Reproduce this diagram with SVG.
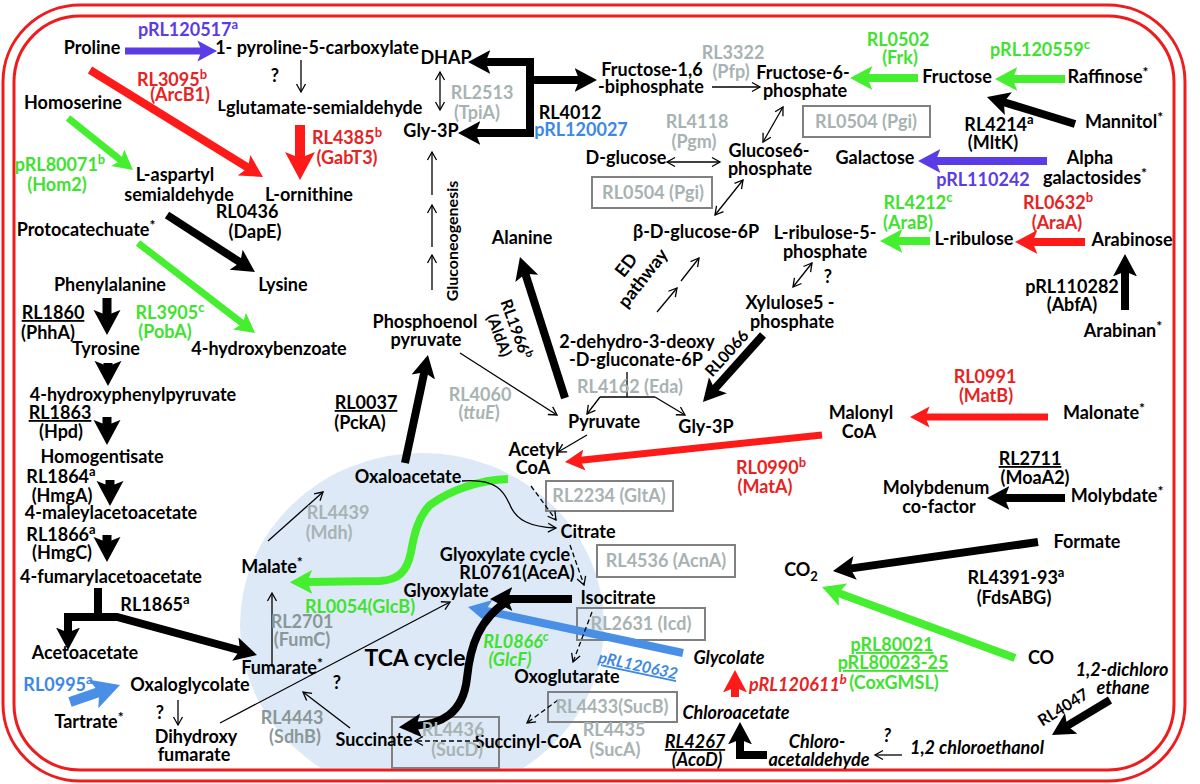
<svg xmlns="http://www.w3.org/2000/svg" width="1200" height="784" viewBox="0 0 1200 784">
<style>
text{font-family:Lato,"Liberation Sans",Arial,sans-serif;font-weight:bold;font-size:18px;text-anchor:middle;fill:#000}
.g{fill:#a7b3b3}.gd{fill:#8a9797}.r{fill:#e8231f}.gr{fill:#3fe22f}.p{fill:#5a3ce6}.b{fill:#3d88e6}
.i{font-style:italic}.u{text-decoration:underline}.sm{font-size:16px}.big{font-size:23px}
.tk{fill:none;stroke-linecap:butt;stroke-linejoin:miter}
.k{stroke:#000}.kr{stroke:#ff1a1a}.kg{stroke:#46ee30}.kp{stroke:#5a3ce6}.kb{stroke:#4a8fe6}
.th{fill:none;stroke:#000;stroke-width:1.3}
.dash{stroke-dasharray:5 3}
.box{fill:none;stroke:#808080;stroke-width:2}
.bd{fill:none;stroke:#ee1c1c;stroke-width:3}
</style>
<defs>
<marker id="hk" viewBox="0 -1.6 2.9 3.2" markerWidth="2.9" markerHeight="3.2" refX="0.9" refY="0" orient="auto-start-reverse" markerUnits="strokeWidth"><path d="M0,-1.5 L2.8,0 L0,1.5 L0.6,0 z" fill="#000"/></marker>
<marker id="hr" viewBox="0 -1.6 2.9 3.2" markerWidth="2.9" markerHeight="3.2" refX="0.9" refY="0" orient="auto-start-reverse" markerUnits="strokeWidth"><path d="M0,-1.5 L2.8,0 L0,1.5 L0.6,0 z" fill="#ff1a1a"/></marker>
<marker id="hg" viewBox="0 -1.6 2.9 3.2" markerWidth="2.9" markerHeight="3.2" refX="0.9" refY="0" orient="auto-start-reverse" markerUnits="strokeWidth"><path d="M0,-1.5 L2.8,0 L0,1.5 L0.6,0 z" fill="#46ee30"/></marker>
<marker id="hp" viewBox="0 -1.6 2.9 3.2" markerWidth="2.9" markerHeight="3.2" refX="0.9" refY="0" orient="auto-start-reverse" markerUnits="strokeWidth"><path d="M0,-1.5 L2.8,0 L0,1.5 L0.6,0 z" fill="#5a3ce6"/></marker>
<marker id="hb" viewBox="0 -1.6 2.9 3.2" markerWidth="2.9" markerHeight="3.2" refX="0.9" refY="0" orient="auto-start-reverse" markerUnits="strokeWidth"><path d="M0,-1.5 L2.8,0 L0,1.5 L0.6,0 z" fill="#4a8fe6"/></marker>
<marker id="oa" viewBox="-10 -6 12 12" markerWidth="12" markerHeight="12" refX="0" refY="0" orient="auto-start-reverse" markerUnits="userSpaceOnUse"><path d="M-8,-4.5 L0,0 L-8,4.5" fill="none" stroke="#000" stroke-width="1.3"/></marker>
<clipPath id="cl"><rect x="14" y="16" width="1160" height="752" rx="66"/></clipPath>
</defs>
<rect width="1200" height="784" fill="#fff"/>
<g id="cell">
<rect class="bd" x="3" y="5" width="1182" height="776" rx="77"/>
<rect class="bd" x="14" y="16" width="1160" height="754" rx="66"/>
<ellipse cx="422" cy="625" rx="182" ry="172" fill="#dde9f6" clip-path="url(#cl)"/>
</g>
<g id="boxes">
<rect class="box" x="803" y="106" width="127" height="31"/>
<rect class="box" x="592" y="177" width="120" height="31"/>
<rect class="box" x="546" y="481" width="127" height="30"/>
<rect class="box" x="597" y="545" width="138" height="32"/>
<rect class="box" x="577" y="608" width="128" height="32"/>
<rect class="box" x="548" y="692" width="129" height="30"/>
<rect class="box" x="392" y="717" width="107" height="51"/>
</g>
<g id="connectors">
<path class="tk kp" stroke-width="7" d="M125,51 H203.7" marker-end="url(#hp)"/>
<path class="tk kr" stroke-width="8" d="M90,70 L250.1,169" marker-end="url(#hr)"/>
<path class="tk kg" stroke-width="7" d="M68,118 L122.6,161.7" marker-end="url(#hg)"/>
<path class="tk k" stroke-width="8" d="M167,215 L242.2,263.7" marker-end="url(#hk)"/>
<path class="tk kg" stroke-width="7" d="M138,243 L244.5,324.9" marker-end="url(#hg)"/>
<path class="tk k" stroke-width="9" d="M107,298 V318" marker-end="url(#hk)"/>
<path class="tk k" stroke-width="9" d="M108,363 V369" marker-end="url(#hk)"/>
<path class="tk k" stroke-width="9" d="M107,417 V428" marker-end="url(#hk)"/>
<path class="tk k" stroke-width="9" d="M110,480 V489" marker-end="url(#hk)"/>
<path class="tk k" stroke-width="9" d="M107,535 V545" marker-end="url(#hk)"/>
<path class="tk k" stroke-width="8" d="M98,588 V617"/>
<path class="tk k" stroke-width="8" d="M64,617 H117 L242.3,651" marker-end="url(#hk)"/>
<path class="tk k" stroke-width="8" d="M68,613 V634.8" marker-end="url(#hk)"/>
<path class="tk kb" stroke-width="10" d="M70,702 L102,691.1" marker-end="url(#hb)"/>
<path class="tk k" stroke-width="8" d="M405,463 L424.8,369.9" marker-end="url(#hk)"/>
<path class="tk k" stroke-width="8" d="M565,398 L524.6,271.5" marker-end="url(#hk)"/>
<path class="tk k" stroke-width="8" d="M483.2,62 H530 V133 H473.2" marker-start="url(#hk)" marker-end="url(#hk)"/>
<path class="tk k" stroke-width="8" d="M530,80 H581.8" marker-end="url(#hk)"/>
<path class="tk kr" stroke-width="10" d="M300,125 V161" marker-end="url(#hr)"/>
<path class="tk kg" stroke-width="8" d="M918,78 H865.2" marker-end="url(#hg)"/>
<path class="tk kg" stroke-width="8" d="M1065,79 H1010.2" marker-end="url(#hg)"/>
<path class="tk k" stroke-width="8" d="M1075,124 L1001.5,101.5" marker-end="url(#hk)"/>
<path class="tk kp" stroke-width="8" d="M1047,161 H933.2" marker-end="url(#hp)"/>
<path class="tk kg" stroke-width="8" d="M930,241 H895.2" marker-end="url(#hg)"/>
<path class="tk kr" stroke-width="8" d="M1085,242 H1030.2" marker-end="url(#hr)"/>
<path class="tk k" stroke-width="8" d="M1125,310 V269.2" marker-end="url(#hk)"/>
<path class="tk k" stroke-width="8" d="M763,335 L713.1,390.7" marker-end="url(#hk)"/>
<path class="tk kr" stroke-width="7" d="M822,435 L578.2,460.6" marker-end="url(#hr)"/>
<path class="tk kr" stroke-width="7" d="M1048,417 H923.3" marker-end="url(#hr)"/>
<path class="tk k" stroke-width="8" d="M1065,498 H1002.2" marker-end="url(#hk)"/>
<path class="tk k" stroke-width="8" d="M1038,542 L848,568.9" marker-end="url(#hk)"/>
<path class="tk kg" stroke-width="8" d="M1015,658 L836.3,592.2" marker-end="url(#hg)"/>
<path class="tk k" stroke-width="8" d="M1110,700 L1065,727.1" marker-end="url(#hk)"/>
<path class="tk k" stroke-width="8" d="M767,755 H740 V737.2" marker-end="url(#hk)"/>
<path class="tk kr" stroke-width="8" d="M735,697 V685.2" marker-end="url(#hr)"/>
<path class="tk kb" stroke-width="8" d="M683,653 L482.9,610.2" marker-end="url(#hb)"/>
<path class="tk k" stroke-width="8" d="M572,599 H505.2" marker-end="url(#hk)"/>
<path class="tk k" stroke-width="8" d="M512,598 C478,618 470,648 467,678 C463,715 440,724 414,726" marker-end="url(#hk)"/>
<path class="tk kg" stroke-width="8" d="M508,479 C480,480 450,490 430,505 C418,517 414,535 411,552 C407,572 398,580 380,581 L305,582" marker-end="url(#hg)"/>
<path class="th" d="M301,60 V92" marker-end="url(#oa)"/>
<path class="th" d="M440,72 V110" marker-start="url(#oa)" marker-end="url(#oa)"/>
<path class="th" d="M432,195 V152" marker-end="url(#oa)"/>
<path class="th" d="M432,247 V205" marker-end="url(#oa)"/>
<path class="th" d="M432,290 V255" marker-end="url(#oa)"/>
<path class="th" d="M712,87 H760" marker-end="url(#oa)"/>
<path class="th" d="M783,107 L763,142" marker-start="url(#oa)" marker-end="url(#oa)"/>
<path class="th" d="M667,162 H720" marker-start="url(#oa)" marker-end="url(#oa)"/>
<path class="th" d="M743,180 L715,215" marker-start="url(#oa)" marker-end="url(#oa)"/>
<path class="th" d="M657,312 L677,288" marker-end="url(#oa)"/>
<path class="th" d="M681,281 L699,258" marker-end="url(#oa)"/>
<path class="th" d="M812,263 L793,287" marker-start="url(#oa)" marker-end="url(#oa)"/>
<path class="th" d="M460,353 L557,415" marker-end="url(#oa)"/>
<path class="th" d="M627,372 V397 M600,397 H655"/>
<path class="th" d="M600,397 L587,414" marker-end="url(#oa)"/>
<path class="th" d="M655,397 L685,415" marker-end="url(#oa)"/>
<path class="th" d="M587,435 L558,452" marker-end="url(#oa)"/>
<path class="th" d="M462,481 C500,478 505,495 510,505 C516,520 530,527 556,528" marker-end="url(#oa)"/>
<path class="th dash" d="M531,486 L556,520" marker-end="url(#oa)"/>
<path class="th dash" d="M570,545 L584,585" marker-end="url(#oa)"/>
<path class="th dash" d="M592,612 L573,662" marker-end="url(#oa)"/>
<path class="th dash" d="M558,700 L527,723" marker-end="url(#oa)"/>
<path class="th dash" d="M478,741 H415" marker-end="url(#oa)"/>
<path class="th" d="M350,728 L303,692" marker-end="url(#oa)"/>
<path class="th" d="M272,667 V593" marker-end="url(#oa)"/>
<path class="th" d="M268,541 L323,492" marker-end="url(#oa)"/>
<path class="th" d="M220,723 L450,602" marker-end="url(#oa)"/>
<path class="th" d="M178,700 V725" marker-end="url(#oa)"/>
<path class="th" d="M902,755 H875" marker-end="url(#oa)"/>
</g>
<g id="n-proline"><text x="92" y="54">Proline</text></g>
<g id="n-pyroline"><text x="317" y="54">1- pyroline-5-carboxylate</text></g>
<g id="n-glusemi"><text x="320" y="114"><tspan font-size="16" dy="-3">L</tspan><tspan dy="3">glutamate-semialdehyde</tspan></text></g>
<g id="n-homoserine"><text x="73" y="109">Homoserine</text></g>
<g id="n-aspartyl"><text x="175" y="181">L-aspartyl</text><text x="179" y="201">semialdehyde</text></g>
<g id="n-ornithine"><text x="309" y="201">L-ornithine</text></g>
<g id="n-protocatechuate"><text x="86" y="236">Protocatechuate<tspan dy="-6" font-size="14">*</tspan></text></g>
<g id="n-lysine"><text x="283" y="291">Lysine</text></g>
<g id="n-phenylalanine"><text x="110" y="291">Phenylalanine</text></g>
<g id="n-tyrosine"><text x="106" y="355">Tyrosine</text></g>
<g id="n-4hb"><text x="269" y="355">4-hydroxybenzoate</text></g>
<g id="n-4hpp"><text x="133" y="401">4-hydroxyphenylpyruvate</text></g>
<g id="n-homogentisate"><text x="102" y="463">Homogentisate</text></g>
<g id="n-4mal"><text x="111" y="519">4-maleylacetoacetate</text></g>
<g id="n-4fum"><text x="111" y="583">4-fumarylacetoacetate</text></g>
<g id="n-acetoacetate"><text x="85" y="659">Acetoacetate</text></g>
<g id="n-oxaloglycolate"><text x="190" y="691">Oxaloglycolate</text></g>
<g id="n-tartrate"><text x="89" y="728">Tartrate<tspan dy="-6" font-size="14">*</tspan></text></g>
<g id="n-dihydroxyfumarate"><text x="196" y="743">Dihydroxy</text><text x="194" y="761">fumarate</text></g>
<g id="n-malate"><text x="272" y="573">Malate<tspan dy="-6" font-size="14">*</tspan></text></g>
<g id="n-fumarate"><text x="282" y="674">Fumarate<tspan dy="-6" font-size="14">*</tspan></text></g>
<g id="n-succinate"><text x="377" y="746">Succinate<tspan dy="-6" font-size="14">*</tspan></text></g>
<g id="n-succinylcoa"><text x="528" y="748">Succinyl-CoA</text></g>
<g id="n-oxoglutarate"><text x="567" y="683">Oxoglutarate</text></g>
<g id="n-isocitrate"><text x="618" y="604">Isocitrate</text></g>
<g id="n-glyoxylate"><text x="446" y="597">Glyoxylate</text></g>
<g id="n-citrate"><text x="588" y="538">Citrate</text></g>
<g id="n-oxaloacetate"><text x="408" y="483">Oxaloacetate</text></g>
<g id="n-acetylcoa"><text x="534" y="456">Acetyl</text><text x="533" y="474">CoA</text></g>
<g id="n-pyruvate"><text x="604" y="428">Pyruvate</text></g>
<g id="n-pep"><text x="425" y="328">Phosphoenol</text><text x="426" y="346">pyruvate</text></g>
<g id="n-alanine"><text x="522" y="244">Alanine</text></g>
<g id="n-dhap"><text x="446" y="64">DHAP</text></g>
<g id="n-gly3p"><text x="431" y="137">Gly-3P</text></g>
<g id="n-f16bp"><text x="652" y="76">Fructose-1,6</text><text x="651" y="93">-biphosphate</text></g>
<g id="n-f6p"><text x="803" y="79">Fructose-6-</text><text x="805" y="97">phosphate</text></g>
<g id="n-dglucose"><text x="626" y="164">D-glucose</text></g>
<g id="n-g6p"><text x="769" y="157">Glucose6-</text><text x="770" y="175">phosphate</text></g>
<g id="n-bdg6p"><text x="696" y="238">β-D-glucose-6P</text></g>
<g id="n-lrib5p"><text x="825" y="239">L-ribulose-5-</text><text x="825" y="258">phosphate</text></g>
<g id="n-kdpg"><text x="637" y="348">2-dehydro-3-deoxy</text><text x="636" y="366">-D-gluconate-6P</text></g>
<g id="n-gly3p2"><text x="706" y="433">Gly-3P</text></g>
<g id="n-xyl5p"><text x="790" y="309">Xylulose5 -</text><text x="792" y="328">phosphate</text></g>
<g id="n-malonylcoa"><text x="861" y="419">Malonyl</text><text x="859" y="438">CoA</text></g>
<g id="n-fructose"><text x="957" y="83">Fructose</text></g>
<g id="n-raffinose"><text x="1108" y="83">Raffinose<tspan dy="-6" font-size="14">*</tspan></text></g>
<g id="n-mannitol"><text x="1124" y="128">Mannitol<tspan dy="-6" font-size="14">*</tspan></text></g>
<g id="n-galactose"><text x="875" y="164">Galactose</text></g>
<g id="n-alphagal"><text x="1090" y="164">Alpha</text><text x="1095" y="184">galactosides<tspan dy="-6" font-size="14">*</tspan></text></g>
<g id="n-lribulose"><text x="974" y="245">L-ribulose</text></g>
<g id="n-arabinose"><text x="1132" y="246">Arabinose</text></g>
<g id="n-arabinan"><text x="1123" y="337">Arabinan<tspan dy="-6" font-size="14">*</tspan></text></g>
<g id="n-malonate"><text x="1104" y="419">Malonate<tspan dy="-6" font-size="14">*</tspan></text></g>
<g id="n-molybdate"><text x="1117" y="502">Molybdate<tspan dy="-6" font-size="14">*</tspan></text></g>
<g id="n-moco"><text x="936" y="494">Molybdenum</text><text x="939" y="513">co-factor</text></g>
<g id="n-formate"><text x="1087" y="548">Formate</text></g>
<g id="n-co2"><text x="801" y="576">CO<tspan font-size="13" dy="5">2</tspan></text></g>
<g id="n-co"><text x="1041" y="664">CO</text></g>
<g id="n-glycolate"><text class="i" x="729" y="664">Glycolate</text></g>
<g id="n-chloroacetate"><text class="i" x="736" y="719">Chloroacetate</text></g>
<g id="n-chloroacetaldehyde"><text class="i" x="817" y="748">Chloro-</text><text class="i" x="819" y="766">acetaldehyde</text></g>
<g id="n-chloroethanol"><text class="i" x="977" y="754">1,2 chloroethanol</text></g>
<g id="n-dichloroethane"><text class="i" x="1122" y="676">1,2-dichloro</text><text class="i" x="1123" y="694">ethane</text></g>
<g id="labels">
<text class="p" x="188" y="36">pRL120517<tspan dy="-7" font-size="13">a</tspan></text>
<text class="r" x="172" y="86">RL3095<tspan dy="-7" font-size="13">b</tspan></text>
<text class="r" x="180" y="101">(ArcB1)</text>
<text x="275" y="82">?</text>
<text class="gr" x="60" y="171">pRL80071<tspan dy="-7" font-size="13">b</tspan></text>
<text class="gr" x="57" y="191">(Hom2)</text>
<text x="247" y="218">RL0436</text>
<text x="255" y="238">(DapE)</text>
<text class="u" x="53" y="319">RL1860</text>
<text x="48" y="339">(PhhA)</text>
<text class="gr" x="170" y="319">RL3905<tspan dy="-7" font-size="13">c</tspan></text>
<text class="gr" x="165" y="338">(PobA)</text>
<text class="u" x="60" y="419">RL1863</text>
<text x="61" y="438">(Hpd)</text>
<text x="61" y="483">RL1864<tspan dy="-7" font-size="13">a</tspan></text>
<text x="62" y="502">(HmgA)</text>
<text x="61" y="541">RL1866<tspan dy="-7" font-size="13">a</tspan></text>
<text x="62" y="559">(HmgC)</text>
<text x="155" y="611">RL1865<tspan dy="-7" font-size="13">a</tspan></text>
<text class="b" x="58" y="691">RL0995<tspan dy="-7" font-size="13">a</tspan></text>
<text x="160" y="719">?</text>
<text class="r" x="347" y="144">RL4385<tspan dy="-7" font-size="13">b</tspan></text>
<text class="r" x="347" y="164">(GabT3)</text>
<text class="g" x="482" y="99">RL2513</text>
<text class="g" x="477" y="119">(TpiA)</text>
<text x="570" y="119">RL4012</text>
<text class="b" x="581" y="136">pRL120027</text>
<text class="g" x="733" y="59">RL3322</text>
<text class="g" x="731" y="78">(Pfp)</text>
<text class="g" x="697" y="128">RL4118</text>
<text class="g" x="694" y="148">(Pgm)</text>
<text class="g" x="866" y="128">RL0504 (Pgi)</text>
<text class="g" x="653" y="199">RL0504 (Pgi)</text>
<text class="sm" transform="translate(458,241) rotate(-90)">Gluconeogenesis</text>
<g transform="translate(508,332) rotate(70)"><text class="sm" y="-3">RL1966<tspan dy="-6" font-size="11">b</tspan></text><text class="sm" y="15">(AldA)</text></g>
<g transform="translate(635,272) rotate(-52)"><text y="-5">ED</text><text y="16">pathway</text></g>
<text class="sm" transform="translate(731,357) rotate(-48)">RL0066</text>
<text class="g" x="630" y="393">RL4162 (Eda)</text>
<text class="g" x="480" y="401">RL4060</text>
<text class="g" x="479" y="419">(<tspan class="i">ttuE</tspan>)</text>
<text class="u" x="366" y="409">RL0037</text>
<text x="360" y="429">(PckA)</text>
<text class="gr" x="898" y="46">RL0502</text>
<text class="gr" x="900" y="64">(Frk)</text>
<text class="gr" x="1040" y="56">pRL120559<tspan dy="-7" font-size="13">c</tspan></text>
<text x="999" y="131">RL4214<tspan dy="-7" font-size="13">a</tspan></text>
<text x="993" y="149">(MltK)</text>
<text class="p" x="983" y="186">pRL110242</text>
<text class="gr" x="918" y="209">RL4212<tspan dy="-7" font-size="13">c</tspan></text>
<text class="gr" x="908" y="229">(AraB)</text>
<text class="r" x="1058" y="209">RL0632<tspan dy="-7" font-size="13">b</tspan></text>
<text class="r" x="1057" y="229">(AraA)</text>
<text x="1072" y="293">pRL110282</text>
<text x="1072" y="311">(AbfA)</text>
<text x="828" y="283">?</text>
<text class="r" x="985" y="383">RL0991</text>
<text class="r" x="986" y="402">(MatB)</text>
<text class="r" x="771" y="474">RL0990<tspan dy="-7" font-size="13">b</tspan></text>
<text class="r" x="765" y="493">(MatA)</text>
<text class="u" x="1030" y="465">RL2711</text>
<text x="1035" y="484">(MoaA2)</text>
<text x="1016" y="584">RL4391-93<tspan dy="-7" font-size="13">a</tspan></text>
<text x="1014" y="604">(FdsABG)</text>
<text class="gr u" x="892" y="651">pRL80021</text>
<text class="gr u" x="893" y="669">pRL80023-25</text>
<text class="gr" x="894" y="689">(CoxGMSL)</text>
<text class="g" x="338" y="519">RL4439</text>
<text class="g" x="329" y="539">(Mdh)</text>
<text class="g" x="609" y="502">RL2234 (GltA)</text>
<text class="g" x="666" y="567">RL4536 (AcnA)</text>
<text x="505" y="561">Glyoxylate  cycle</text>
<text x="517" y="579">RL0761(AceA)</text>
<text class="g" x="641" y="630">RL2631 (Icd)</text>
<text class="gr" x="360" y="613">RL0054(GlcB)</text>
<text class="gd" x="302" y="628">RL2701</text>
<text class="gd" x="302" y="646">(FumC)</text>
<text class="big" x="415" y="666">TCA cycle</text>
<text class="gr i" x="516" y="648">RL0866<tspan dy="-7" font-size="13">c</tspan></text>
<text class="gr i" x="510" y="666">(GlcF)</text>
<text class="b i u sm" transform="translate(637,671) rotate(12)">pRL120632</text>
<text x="337" y="689">?</text>
<text class="gd" x="292" y="724">RL4443</text>
<text class="gd" x="295" y="743">(SdhB)</text>
<text class="g" x="453" y="736">RL4436</text>
<text class="g" x="457" y="756">(SucD)</text>
<text class="g" x="612" y="713">RL4433(SucB)</text>
<text class="g" x="614" y="736">RL4435</text>
<text class="g" x="615" y="756">(SucA)</text>
<text class="r i" x="798" y="691">pRL120611<tspan dy="-7" font-size="13">b</tspan></text>
<text class="i u" x="695" y="748">RL4267</text>
<text class="i" x="697" y="766">(AcoD)</text>
<text class="i" x="887" y="742">?</text>
<text class="sm" transform="translate(1066,712) rotate(-32)">RL4047</text>
</g>
</svg>
